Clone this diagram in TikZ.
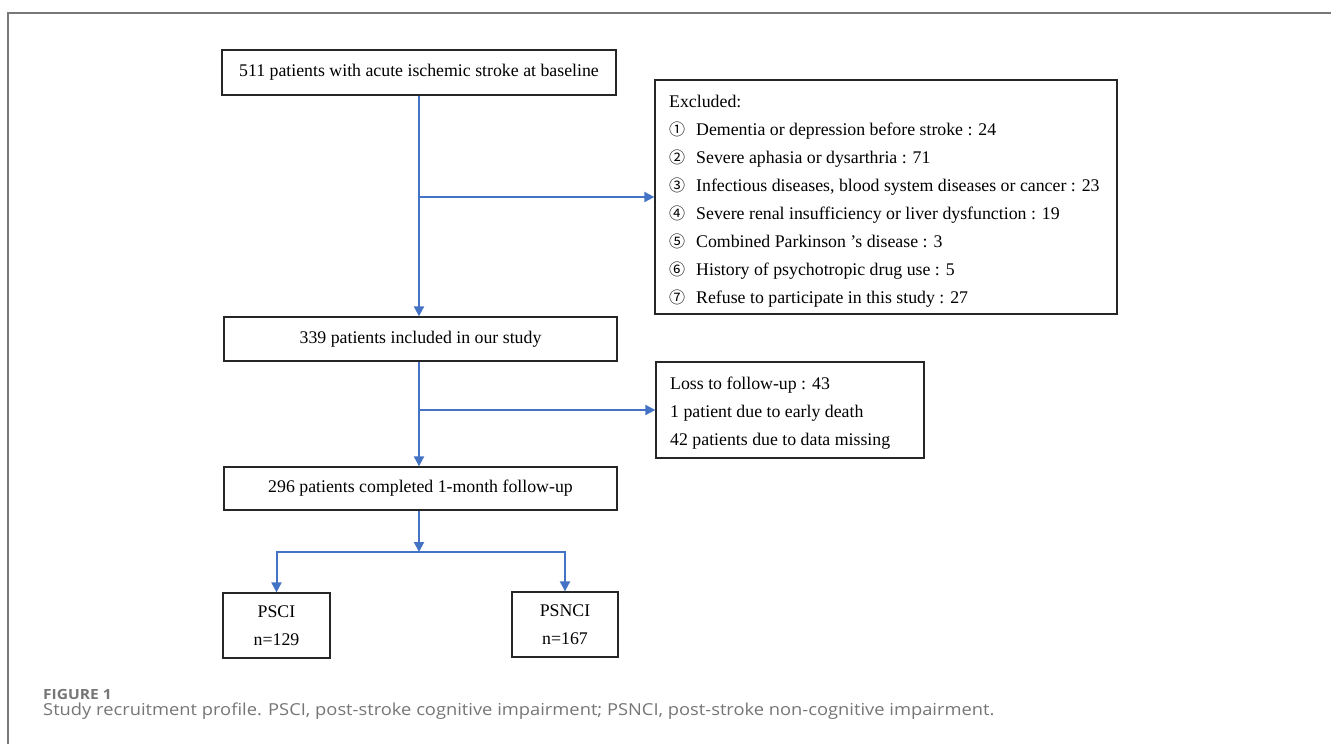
\documentclass[tikz,border=0pt]{standalone}
\usepackage{fontspec}
\setmainfont{Liberation Serif}
\newfontfamily\capfont{Open Sans}[FakeStretch=1.11]
\newfontfamily\circfont{Noto Sans CJK SC}
\usetikzlibrary{arrows.meta}
\definecolor{flowblue}{RGB}{68,114,196}
\definecolor{capgray}{RGB}{118,118,118}
\definecolor{framegray}{RGB}{120,120,120}
\newcommand{\cnum}[1]{\makebox[27pt][l]{\circfont\fontsize{16}{16}\selectfont #1}}
\begin{document}
\begin{tikzpicture}[x=1pt,y=-1pt,
  box/.style={draw=black!85, line width=1.3pt, inner sep=0pt, align=center,
    font=\fontsize{17.8}{28}\selectfont},
  flow/.style={draw=flowblue, line width=2pt},
  arr/.style={flow, -{Triangle[length=10pt,width=10pt]}},
  lst/.style={anchor=west, inner sep=0pt, text height=12pt, text depth=4pt,
    font=\fontsize{17.8}{20}\selectfont},
  captionstyle/.style={anchor=base west, inner sep=0pt, text=capgray}]
\useasboundingbox (0,0) rectangle (1331,744);
\fill[white] (0,0) rectangle (1331,744);
% outer frame
\draw[framegray, line width=1.4pt] (1331,13) -- (8,13) -- (8,744);

% boxes
\node[box, minimum width=394pt, minimum height=45pt] (b1) at (419,72.5)
  {511 patients with acute ischemic stroke at baseline};
\node[box, minimum width=393pt, minimum height=44pt] (b2) at (420.5,339)
  {339 patients included in our study};
\node[box, minimum width=393pt, minimum height=43pt] (b3) at (420.5,488.5)
  {296 patients completed 1-month follow-up};
\node[box, minimum width=462pt, minimum height=234pt] (excl) at (886,197) {};
\node[box, minimum width=268pt, minimum height=96pt] (ltf) at (790,410) {};
\node[box, minimum width=107pt, minimum height=65pt] (psci) at (276.5,625.5)
  {PSCI\\n=129};
\node[box, minimum width=106pt, minimum height=65pt] (psnci) at (565,624.5)
  {PSNCI\\n=167};

% excluded list
\node[lst] (e0) at (669,103) {Excluded:};
\node[lst] (e1) at (669,131) {\cnum{①}Dementia or depression before stroke : 24};
\node[lst] (e2) at (669,159) {\cnum{②}Severe aphasia or dysarthria : 71};
\node[lst] (e3) at (669,187) {\cnum{③}Infectious diseases, blood system diseases or cancer : 23};
\node[lst] (e4) at (669,215) {\cnum{④}Severe renal insufficiency or liver dysfunction : 19};
\node[lst] (e5) at (669,243) {\cnum{⑤}Combined Parkinson {\char"0027}s disease : 3};
\node[lst] (e6) at (669,271) {\cnum{⑥}History of psychotropic drug use : 5};
\node[lst] (e7) at (669,299) {\cnum{⑦}Refuse to participate in this study : 27};

% loss to follow-up list
\node[lst] (l1) at (670,385) {Loss to follow-up : 43};
\node[lst] (l2) at (670,413) {1 patient due to early death};
\node[lst] (l3) at (670,441) {42 patients due to data missing};

% connectors
\coordinate (j) at (419,552);
\draw[arr] (b1.south) -- (b1.south |- b2.north);
\draw[arr] (b1.south |- excl.west) -- (excl.west);
\draw[arr] (b1.south |- b2.south) -- (b1.south |- b3.north);
\draw[arr] (b1.south |- ltf.west) -- (ltf.west);
\draw[arr] (b1.south |- b3.south) -- (j);
\draw[arr] (j) -| (psci.north);
\draw[arr] (j) -| (psnci.north);

% caption
\node[captionstyle, font=\capfont\bfseries\fontsize{14}{16}\selectfont] (fig) at (43,699) {FIGURE 1};
\node[captionstyle, font=\capfont\fontsize{16.5}{20}\selectfont] (captxt) at (43,715)
  {Study recruitment profile. PSCI, post-stroke cognitive impairment; PSNCI, post-stroke non-cognitive impairment.};
\end{tikzpicture}
\end{document}
